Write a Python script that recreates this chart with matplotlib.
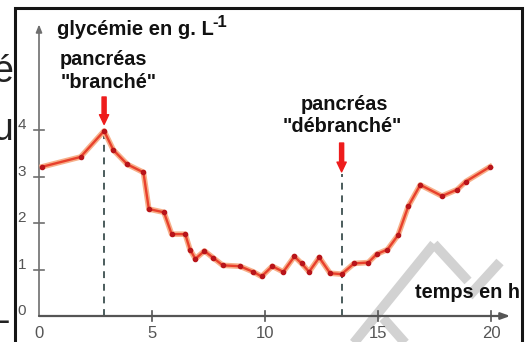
import matplotlib
matplotlib.use("Agg")
import matplotlib.pyplot as plt
from matplotlib.patches import Rectangle

# glycémie (g/L) relevée au cours du temps (h)
temps = [0.15, 1.84, 2.88, 3.29, 3.91, 4.62, 4.86, 5.53, 5.87, 6.47,
         6.68, 6.92, 7.32, 7.71, 8.13, 8.89, 9.48, 9.85, 10.32, 10.81,
         11.30, 11.62, 11.95, 12.40, 12.88, 13.39, 13.94, 14.57, 14.94, 15.42,
         15.89, 16.34, 16.87, 17.83, 18.51, 18.88, 19.96]
glycemie = [3.21, 3.42, 3.98, 3.57, 3.26, 3.09, 2.30, 2.23, 1.76, 1.76,
            1.43, 1.23, 1.40, 1.25, 1.09, 1.07, 0.95, 0.85, 1.07, 0.95,
            1.28, 1.13, 0.95, 1.26, 0.92, 0.90, 1.13, 1.15, 1.33, 1.43,
            1.74, 2.36, 2.82, 2.58, 2.72, 2.89, 3.21]
x_ticks = [0, 5, 10, 15, 20]
y_ticks = [0, 1, 2, 3, 4]
i_branche = 2      # pancréas branché
i_debranche = 25   # pancréas débranché

plt.rcParams['font.family'] = ['Liberation Sans', 'DejaVu Sans']

W, H = 526, 342
fig = plt.figure(figsize=(W / 100, H / 100), dpi=100)
ax = fig.add_axes([0, 0, 1, 1])
ax.set_axis_off()

# origin of the graph in pixels and pixels per unit
X0, XS = 39, 22.6
Y0, YS = 316, 46.5
ax.set_xlim(-X0 / XS, (W - X0) / XS)
ax.set_ylim(-(H - Y0) / YS, Y0 / YS)


def px(x, y):
    return (x - X0) / XS, (Y0 - y) / YS


# grey watermark strokes behind everything
for (xa, ya), (xb, yb) in [((353, 344), (434, 244)), ((434, 244), (468, 281)),
                           ((500, 262), (469, 296)), ((383, 318), (406, 344))]:
    pa, pb = px(xa, ya), px(xb, yb)
    ax.plot([pa[0], pb[0]], [pa[1], pb[1]], color='#d2d2d2', lw=7,
            solid_capstyle='butt', zorder=0, clip_on=False)

# frame
fx, fy = px(15, 400)
ax.add_patch(Rectangle((fx, fy), (522 - 15) / XS, (400 - 8) / YS, fill=False,
                       ec='#151515', lw=2.2, zorder=6, clip_on=False))

# bits of surrounding text outside the frame
ax.text(*px(13.5, 82), 'é', fontsize=27, color='#222222', ha='right', va='baseline')
ax.text(*px(13.5, 140), 'u', fontsize=27, color='#222222', ha='right', va='baseline')
ax.text(*px(10, 332), '-', fontsize=27, color='#222222', ha='right', va='baseline')

# axes with arrow heads
ax.annotate('', xy=(0, 6.27), xytext=(0, 0),
            arrowprops=dict(arrowstyle='-|>,head_length=0.45,head_width=0.18',
                            color='#6e6e6e', lw=1.2, shrinkA=0, shrinkB=0))
ax.annotate('', xy=(20.85, 0), xytext=(0, 0),
            arrowprops=dict(arrowstyle='-|>,head_length=0.55,head_width=0.2',
                            color='#555555', lw=1.6, shrinkA=0, shrinkB=0))
for t in x_ticks[1:]:
    ax.plot([t, t], [-0.11, 0.11], color='#555555', lw=1.2)
for v in y_ticks[1:]:
    ax.plot([-0.22, 0.22], [v, v], color='#6e6e6e', lw=1.2)
for t in x_ticks:
    ax.text(t, -0.21, str(t), fontsize=12, color='#555555', ha='center', va='top')
for v in y_ticks:
    ax.text(-0.58, v + 0.1, str(v), fontsize=11, color='#555555', ha='right', va='center')

# dashed markers for the two events
ax.vlines(temps[i_branche], 0, glycemie[i_branche], colors='#3d4f4f',
          linestyles=(0, (3.8, 3.2)), lw=1.3, zorder=2)
ax.vlines(temps[i_debranche], 0, 3.05, colors='#3d4f4f',
          linestyles=(0, (3.8, 3.2)), lw=1.3, zorder=2)

# glycaemia curve: soft orange halo, red line, dark dots
ax.plot(temps, glycemie, color='#f7b08a', lw=4.0, solid_joinstyle='round', zorder=3)
ax.plot(temps, glycemie, color='#e8402c', lw=1.7, marker='o', ms=3,
        mfc='#b8141a', mec='#b8141a', zorder=4)

# red arrows
arrow_style = 'simple,head_width=0.95,head_length=1.0,tail_width=0.42'
for x_arr, y_tail, y_tip in [(temps[i_branche], 4.71, 4.12),
                             (temps[i_debranche], 3.72, 3.10)]:
    ax.annotate('', xy=(x_arr, y_tip), xytext=(x_arr, y_tail),
                arrowprops=dict(arrowstyle=arrow_style, color='#ee1c1c',
                                mutation_scale=7, shrinkA=0, shrinkB=0), zorder=5)

# titles and annotations
ax.text(*px(57, 35), 'glycémie en g. L', fontsize=14.5, fontweight='bold',
        color='#111111', ha='left', va='baseline')
ax.text(*px(212, 27), '-1', fontsize=12, fontweight='bold',
        color='#111111', ha='left', va='baseline')
ax.text(*px(60, 65), 'pancréas', fontsize=14.3, fontweight='bold',
        color='#111111', ha='left', va='baseline')
ax.text(*px(61, 88), '"branché"', fontsize=14.3, fontweight='bold',
        color='#111111', ha='left', va='baseline')
ax.text(13.5, px(0, 110)[1], 'pancréas', fontsize=14.3, fontweight='bold',
        color='#111111', ha='center', va='baseline')
ax.text(13.4, px(0, 132)[1], '"débranché"', fontsize=14.3, fontweight='bold',
        color='#111111', ha='center', va='baseline')
ax.text(*px(415, 298), 'temps en h', fontsize=14.3, fontweight='bold',
        color='#111111', ha='left', va='baseline')

fig.savefig('out.png', dpi=100)
